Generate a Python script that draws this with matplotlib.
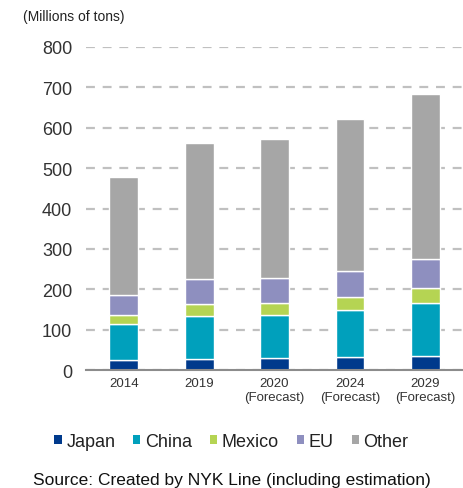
import matplotlib
matplotlib.use("Agg")
import matplotlib.pyplot as plt
import numpy as np
from matplotlib.patches import Patch

# ── data ──
years = ["2014", "2019", "2020\n(Forecast)", "2024\n(Forecast)", "2029\n(Forecast)"]
japan = [26, 27, 29, 32, 34]
china = [88, 108, 107, 116, 132]
mexico = [22, 29, 29, 32, 37]
eu = [50, 62, 62, 66, 72]
other = [293, 337, 344, 376, 409]

series = [("Japan", japan, "#003a8c"),
          ("China", china, "#00a0bc"),
          ("Mexico", mexico, "#b5d453"),
          ("EU", eu, "#8e8fbf"),
          ("Other", other, "#a6a6a6")]

plt.rcParams["font.family"] = ["Liberation Sans", "DejaVu Sans"]

fig = plt.figure(figsize=(4.63, 4.89), dpi=100)
ax = fig.add_axes([0.186, 0.241, 0.814, 0.661])

x = np.arange(len(years))
bottom = np.zeros(len(years))
for name, vals, color in series:
    ax.bar(x, vals, width=0.38, bottom=bottom, color=color,
           edgecolor="white", linewidth=1.0, zorder=3)
    bottom += np.array(vals)

ax.set_ylim(0, 800)
ax.set_xlim(-0.5, len(years) - 0.5)
ax.set_yticks(range(0, 801, 100))
ax.yaxis.grid(True, color="#c0c0c0", linestyle=(0, (4, 3.5)), linewidth=1.6, zorder=0)
ax.set_xticks(x)
ax.set_xticklabels(years, fontsize=9.5, color="#333333", linespacing=1.25)
ax.tick_params(axis="y", length=0, labelsize=13, labelcolor="#333333", pad=10)
ax.tick_params(axis="x", length=0, pad=5)
for s in ["top", "right", "left"]:
    ax.spines[s].set_visible(False)
ax.spines["bottom"].set_color("#8c8c8c")
ax.spines["bottom"].set_linewidth(1.5)
ax.spines["bottom"].set_zorder(4)

fig.text(0.05, 0.965, "(Millions of tons)", fontsize=10, color="#222222",
         ha="left", va="center")

handles = [Patch(facecolor=c, edgecolor="none", label=n) for n, _, c in series]
fig.legend(handles=handles, loc="center", bbox_to_anchor=(0.5, 0.095), ncol=5,
           frameon=False, fontsize=13, handlelength=0.4, handleheight=0.4,
           handletextpad=0.25, columnspacing=1.0, labelcolor="#222222")

fig.text(0.5, 0.018, "Source: Created by NYK Line (including estimation)",
         fontsize=12.5, color="#111111", ha="center", va="center")

fig.savefig("out.png", dpi=100)
